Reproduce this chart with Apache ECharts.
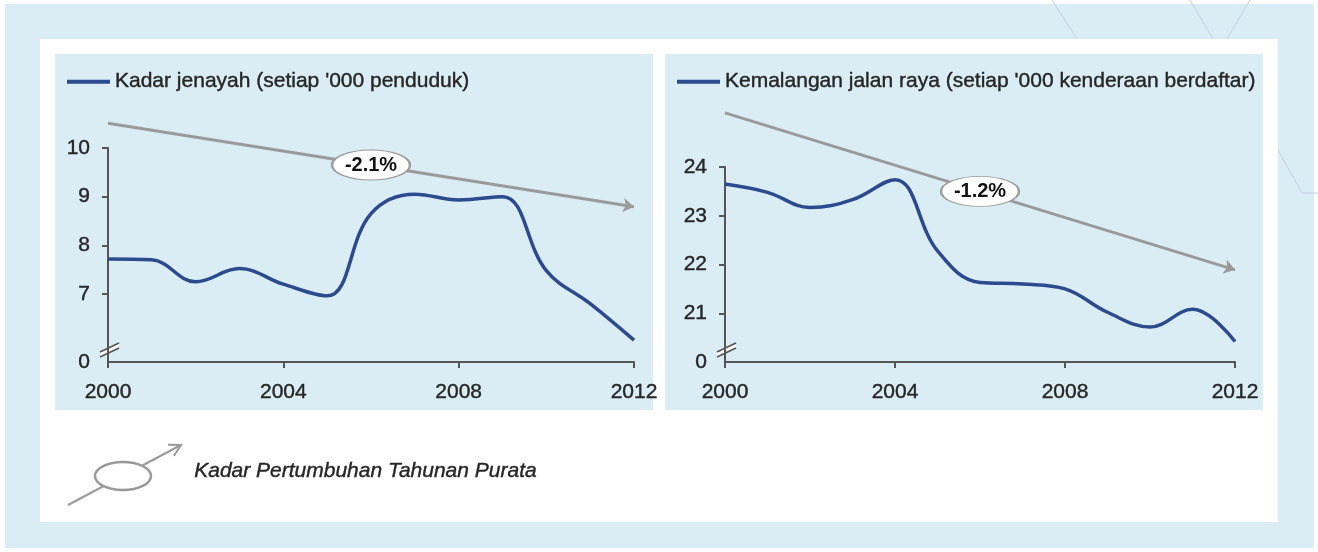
<!DOCTYPE html>
<html>
<head>
<meta charset="utf-8">
<script src="https://cdn.jsdelivr.net/npm/echarts@6/dist/echarts.min.js"></script>
<style>
  html, body { margin: 0; background: #fff; }
  #chart { width: 1318px; height: 552px; }
</style>
</head>
<body>
<div id="chart"></div>
<script>
// yearly values
const years = [2000, 2001, 2002, 2003, 2004, 2005, 2006, 2007, 2008, 2009, 2010, 2011, 2012]
const crimeRate = [7.72, 7.7, 7.25, 7.52, 7.2, 6.96, 8.65, 9.05, 8.93, 9.0, 7.48, 6.8, 6.05]
const roadAccidents = [23.65, 23.48, 23.17, 23.33, 23.74, 22.28, 21.63, 21.6, 21.5, 21.02, 20.72, 21.08, 20.42]

// average annual growth arrows (start value, end value)
const crimeTrend = [10.51, 8.79]
const roadTrend = [25.11, 21.89]
const trendLabels = ['-2.1%', '-1.2%']

const seriesNames = ["Kadar jenayah (setiap '000 penduduk)", "Kemalangan jalan raya (setiap '000 kenderaan berdaftar)"]
const footnote = 'Kadar Pertumbuhan Tahunan Purata'

// axis ticks, bottom of each axis is shown as a broken "0"
const crimeTicks = [7, 8, 9, 10]
const roadTicks = [21, 22, 23, 24]
const crimeAxisMin = 5.6
const roadAxisMin = 20

const FONT = "'Liberation Sans', Arial, sans-serif"
const TEXT = '#262626'
const PANEL = '#daecf4'
const AXIS = '#555'
const LINE = '#2c4a8e'
const TREND = '#9a9a9a'

// slightly heavier text, like the scanned original
const textBase = { fontFamily: FONT, fontSize: 21, color: TEXT, textBorderColor: TEXT, textBorderWidth: 0.4 }

const chart = echarts.init(document.getElementById('chart'))

function pairs(values) {
  return years.map((y, i) => [y, values[i]])
}

function xAxisFor(gridIndex) {
  return {
    type: 'value',
    gridIndex: gridIndex,
    min: 2000,
    max: 2012,
    interval: 4,
    splitLine: { show: false },
    axisLine: { show: true, lineStyle: { color: AXIS, width: 2 } },
    axisTick: { show: true, length: 6, lineStyle: { color: AXIS, width: 2 } },
    axisLabel: Object.assign({ margin: 20, formatter: v => String(v) }, textBase)
  }
}

function yAxisFor(gridIndex, min, max, ticks) {
  return {
    type: 'value',
    gridIndex: gridIndex,
    min: min,
    max: max,
    splitLine: { show: false },
    axisLine: { show: true, lineStyle: { color: AXIS, width: 2 } },
    axisTick: { show: true, length: 6, customValues: ticks, lineStyle: { color: AXIS, width: 2 } },
    axisLabel: Object.assign({
      margin: 18,
      customValues: [min].concat(ticks),
      formatter: v => (v === min ? '0' : String(v))
    }, textBase)
  }
}

function trendSeries(idx, trend) {
  return [{
    type: 'lines',
    coordinateSystem: 'cartesian2d',
    xAxisIndex: idx,
    yAxisIndex: idx,
    clip: false,
    z: 3,
    symbol: ['none', 'arrow'],
    symbolSize: 11,
    silent: true,
    lineStyle: { color: TREND, width: 3, opacity: 1 },
    data: [{ coords: [[2000, trend[0]], [2012, trend[1]]] }]
  }, {
    type: 'scatter',
    xAxisIndex: idx,
    yAxisIndex: idx,
    z: 5,
    symbol: 'circle',
    symbolSize: [78, 30],
    silent: true,
    itemStyle: { color: '#fff', borderColor: TREND, borderWidth: 1.5, opacity: 1 },
    label: {
      show: true,
      position: 'inside',
      formatter: trendLabels[idx],
      fontFamily: FONT,
      fontSize: 20,
      fontWeight: 'bold',
      color: '#111'
    },
    data: [[2006, (trend[0] + trend[1]) / 2]]
  }]
}

function mainSeries(idx, values) {
  return {
    name: seriesNames[idx],
    type: 'line',
    xAxisIndex: idx,
    yAxisIndex: idx,
    z: 4,
    smooth: 0.4,
    symbol: 'none',
    lineStyle: { color: LINE, width: 3.5 },
    itemStyle: { color: LINE },
    data: pairs(values)
  }
}

function legendFor(idx, left) {
  return {
    data: [seriesNames[idx]],
    left: left,
    top: 66,
    icon: 'rect',
    itemWidth: 43,
    itemHeight: 4,
    itemGap: 7,
    selectedMode: false,
    textStyle: Object.assign({}, textBase)
  }
}

chart.setOption({
  animation: false,
  backgroundColor: '#fff',
  grid: [
    { left: 108, right: 684, top: 148, bottom: 190 },
    { left: 725, right: 83, top: 167, bottom: 190 }
  ],
  xAxis: [xAxisFor(0), xAxisFor(1)],
  yAxis: [
    yAxisFor(0, crimeAxisMin, 10, crimeTicks),
    yAxisFor(1, roadAxisMin, 24, roadTicks)
  ],
  legend: [legendFor(0, 62), legendFor(1, 672)],
  series: [
    mainSeries(0, crimeRate),
    mainSeries(1, roadAccidents)
  ].concat(trendSeries(0, crimeTrend), trendSeries(1, roadTrend))
})

// axis break marks on each y axis, placed from the axis scale
function breakMark(gridIndex, min) {
  const p = chart.convertToPixel({ gridIndex: gridIndex }, [2000, min])
  const x = p[0], y = p[1] - 9
  return {
    type: 'group',
    z: 100,
    children: [
      { type: 'polygon', shape: { points: [[x - 8, y + 4], [x + 11, y - 5], [x + 11, y - 10], [x - 8, y - 1]] }, style: { fill: '#fff' } },
      { type: 'line', shape: { x1: x - 8, y1: y + 4, x2: x + 11, y2: y - 5 }, style: { stroke: AXIS, lineWidth: 1.8 } },
      { type: 'line', shape: { x1: x - 8, y1: y - 1, x2: x + 11, y2: y - 10 }, style: { stroke: AXIS, lineWidth: 1.8 } }
    ]
  }
}

// footnote symbol: arrow through an ellipse
const ax = 68, ay = 505, bx = 181, by = 445
const ang = Math.atan2(by - ay, bx - ax)
const head = a => [bx - 13 * Math.cos(ang + a), by - 13 * Math.sin(ang + a)]
const h1 = head(0.5), h2 = head(-0.5)

const deco = { stroke: '#c3cde8', lineWidth: 1 }

chart.setOption({
  graphic: [
    // page frame
    { type: 'rect', z: -30, shape: { x: 5, y: 4, width: 1309, height: 544 }, style: { fill: PANEL } },
    { type: 'line', z: -29, shape: { x1: 1052, y1: 0, x2: 1077, y2: 39 }, style: deco },
    { type: 'line', z: -29, shape: { x1: 1190, y1: 0, x2: 1213, y2: 39 }, style: deco },
    { type: 'line', z: -29, shape: { x1: 1250, y1: 0, x2: 1227, y2: 39 }, style: deco },
    { type: 'polyline', z: -29, shape: { points: [[1278, 150], [1302, 193], [1318, 193]] }, style: deco },
    { type: 'rect', z: -20, shape: { x: 40, y: 39, width: 1238, height: 483 }, style: { fill: '#fff' } },
    { type: 'rect', z: -10, shape: { x: 55, y: 54, width: 598, height: 356 }, style: { fill: PANEL } },
    { type: 'rect', z: -10, shape: { x: 665, y: 54, width: 598, height: 356 }, style: { fill: PANEL } },
    breakMark(0, crimeAxisMin),
    breakMark(1, roadAxisMin),
    // footnote
    { type: 'line', z: 10, shape: { x1: ax, y1: ay, x2: bx, y2: by }, style: { stroke: TREND, lineWidth: 2 } },
    { type: 'polyline', z: 10, shape: { points: [h1, [bx, by], h2] }, style: { stroke: TREND, lineWidth: 2, fill: null } },
    { type: 'ellipse', z: 11, shape: { cx: 123, cy: 476, rx: 28, ry: 14 }, style: { fill: '#fff', stroke: TREND, lineWidth: 2.5 } },
    {
      type: 'text', z: 11, left: 194, top: 460,
      style: {
        text: footnote, font: "italic 21px 'Liberation Sans', Arial, sans-serif",
        fill: TEXT, stroke: TEXT, lineWidth: 0.4
      }
    }
  ]
})
</script>
</body>
</html>
